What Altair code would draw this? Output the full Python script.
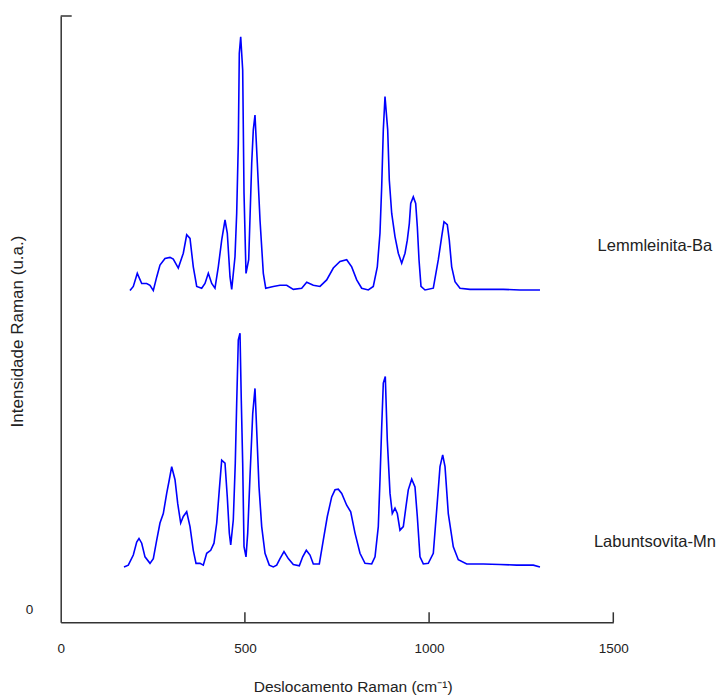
import altair as alt
import pandas as pd

# Lemmleinita-Ba (upper spectrum, offset)
lem_x = [188.1, 197.1, 207.9, 219.9, 233.4, 242.4, 251.4, 260.6, 269.5, 283.1, 296.7, 305.6,
         319.2, 332.8, 342.0, 351.0, 359.9, 369.2, 382.7, 391.7, 400.7, 409.9, 418.8, 427.8,
         437.0, 446.0, 452.2, 459.6, 464.2, 473.1, 477.7, 482.1, 484.8, 488.6, 494.0, 497.6,
         503.0, 510.3, 518.5, 522.8, 527.4, 533.7, 541.0, 550.0, 556.5, 577.1, 595.3, 613.5,
         631.4, 654.2, 667.8, 685.7, 703.9, 722.0, 740.0, 758.1, 776.3, 789.9, 803.5, 817.0,
         835.0, 848.5, 859.4, 866.7, 871.3, 875.7, 880.3, 887.6, 892.0, 898.5, 907.4, 916.4,
         925.6, 934.6, 940.8, 946.3, 950.1, 957.1, 963.6, 968.0, 972.6, 978.0, 988.9, 1011.4,
         1025.0, 1034.2, 1040.4, 1049.4, 1054.8, 1061.3, 1070.3, 1083.9, 1111.0, 1156.4,
         1201.4, 1246.7, 1301.0]
lem_y = [53.7, 54.4, 56.6, 54.9, 54.9, 54.6, 53.7, 56.0, 58.0, 59.1, 59.3, 59.0,
         57.5, 60.0, 63.1, 62.5, 57.7, 54.4, 54.1, 54.9, 56.6, 54.9, 54.1, 57.7,
         62.2, 65.6, 63.4, 56.0, 53.9, 59.4, 66.7, 78.5, 93.7, 96.5, 90.9, 70.1,
         56.6, 58.9, 75.2, 80.8, 83.3, 75.2, 65.6, 56.6, 54.1, 54.4, 54.6, 54.6,
         53.9, 54.1, 55.1, 54.6, 54.4, 55.5, 57.5, 58.6, 58.9, 57.7, 55.5, 54.1,
         53.8, 54.4, 57.7, 63.4, 71.2, 80.8, 86.4, 80.8, 72.3, 66.7, 62.8, 60.0,
         58.3, 60.0, 62.2, 65.0, 68.4, 69.5, 68.4, 64.5, 58.9, 54.4, 53.8, 54.1,
         58.9, 62.8, 65.3, 64.8, 62.2, 57.7, 55.2, 54.1, 53.9, 53.9,
         53.9, 53.8, 53.8]

# Labuntsovita-Mn (lower spectrum)
lab_x = [171.8, 183.5, 197.1, 206.3, 212.5, 219.9, 228.8, 242.4, 251.4, 260.6, 269.5, 278.5,
         287.7, 294.8, 301.3, 310.3, 317.6, 325.7, 332.8, 342.0, 351.0, 359.9, 367.3, 378.1,
         387.1, 396.3, 407.2, 416.1, 423.5, 430.5, 437.0, 446.0, 452.2, 457.7, 461.5, 468.5,
         473.9, 477.7, 482.1, 486.7, 490.2, 494.0, 497.6, 503.0, 507.6, 513.8, 521.2, 527.4,
         532.0, 538.3, 545.6, 554.6, 566.2, 577.1, 586.3, 595.3, 606.1, 617.8, 631.4, 647.7,
         656.9, 666.7, 676.7, 685.7, 702.0, 712.8, 723.7, 735.6, 744.6, 753.5, 762.8, 776.3,
         787.2, 798.9, 812.4, 826.0, 844.2, 853.2, 862.1, 866.7, 871.3, 875.7, 881.1, 886.5,
         893.9, 900.1, 907.4, 913.7, 921.0, 930.0, 937.3, 943.5, 952.8, 961.7, 968.0, 975.3,
         984.3, 997.8, 1011.4, 1020.6, 1029.6, 1036.9, 1043.2, 1052.1, 1065.7, 1079.3, 1102.1,
         1147.1, 1192.4, 1237.8, 1282.9, 1301.0]
lab_y = [7.1, 7.4, 9.1, 11.3, 11.9, 11.1, 8.8, 7.7, 8.5, 11.6, 14.5, 16.1,
         19.5, 21.8, 24.0, 21.8, 17.8, 14.5, 15.6, 16.4, 13.9, 9.9, 7.7, 7.7,
         7.4, 9.4, 9.9, 11.1, 14.5, 20.1, 25.1, 24.6, 18.9, 12.8, 10.8, 15.0,
         24.6, 34.7, 45.4, 46.5, 35.2, 24.6, 10.5, 8.8, 12.8, 22.3, 32.9, 37.2,
         30.2, 20.6, 13.9, 9.4, 7.4, 7.1, 7.4, 8.5, 9.7, 8.5, 7.5, 7.3,
         8.8, 9.9, 9.1, 7.6, 7.6, 11.6, 15.6, 18.9, 20.1, 20.2, 19.5, 17.5,
         16.4, 12.8, 9.4, 7.7, 7.6, 8.8, 13.9, 21.8, 30.7, 38.1, 39.2, 28.5,
         19.5, 16.1, 17.0, 16.1, 13.3, 13.9, 17.3, 20.1, 21.9, 20.6, 15.6, 8.8,
         7.6, 7.7, 9.4, 16.7, 24.0, 26.0, 24.0, 16.1, 10.5, 8.3, 7.6,
         7.6, 7.5, 7.4, 7.4, 7.1]

label_names = ["Lemmleinita-Ba", "Labuntsovita-Mn"]
label_x = [1613, 1613]
label_y = [61.2, 11.3]

x_ticks = [0, 500, 1000, 1500]
inner_ticks = [500, 1000, 1500]
y_ticks = [0]

W, H = 552.6, 606.3
FONT = "Liberation Sans"
TXT = "#222222"

df = pd.concat([
    pd.DataFrame({"x": lem_x, "y": lem_y, "s": "Lemmleinita-Ba"}),
    pd.DataFrame({"x": lab_x, "y": lab_y, "s": "Labuntsovita-Mn"}),
])

xscale = alt.Scale(domain=[0, 1500], nice=False, zero=False)
yscale = alt.Scale(domain=[-2.24, 100], nice=False, zero=False)

xaxis = alt.Axis(values=x_ticks, format="d", ticks=False, grid=False, domainColor="#333333",
                 domainWidth=1.5, labelFlush=False, labelOverlap=False,
                 labelFont=FONT, labelFontSize=13.5, labelColor=TXT, labelPadding=19,
                 title="Deslocamento Raman (cm⁻¹)", titleFont=FONT, titleFontSize=15.5,
                 titleFontWeight="normal", titleColor=TXT, titleX=292, titleY=64,
                 titleBaseline="middle", titleAlign="center")
yaxis = alt.Axis(values=y_ticks, format="d", ticks=False, grid=False, domainColor="#333333",
                 domainWidth=1.5, labelFlush=False,
                 labelFont=FONT, labelFontSize=13.5, labelColor=TXT, labelPadding=28,
                 labelBaseline="middle",
                 title="Intensidade Raman (u.a.)", titleFont=FONT, titleFontSize=17,
                 titleFontWeight="normal", titleColor=TXT, titleX=-43, titleY=315,
                 titleBaseline="middle", titleAlign="center", titleAngle=-90)

lines = alt.Chart(df).mark_line(color="#0000FF", strokeWidth=1.6).encode(
    x=alt.X("x:Q", scale=xscale, axis=xaxis),
    y=alt.Y("y:Q", scale=yscale, axis=yaxis),
    detail="s:N",
)

labels = alt.Chart(pd.DataFrame({"t": label_names, "x": label_x, "y": label_y})).mark_text(
    font=FONT, fontSize=16.5, color=TXT, align="center", baseline="middle"
).encode(x=alt.X("x:Q", scale=xscale), y=alt.Y("y:Q", scale=yscale), text="t:N")

ticks_x = alt.Chart(pd.DataFrame({"v": inner_ticks})).mark_rule(color="#333333", strokeWidth=1.5).encode(
    x=alt.X("v:Q", scale=xscale), y=alt.value(H), y2=alt.value(H - 10)
)

tick_top = alt.Chart(pd.DataFrame({"v": [0]})).mark_rule(color="#333333", strokeWidth=1.5).encode(
    x=alt.value(0), x2=alt.value(11), y=alt.value(0)
)

chart = alt.layer(lines, labels, ticks_x, tick_top).properties(
    width=W, height=H,
    background="white",
    autosize=alt.AutoSizeParams(type="none"),
    padding={"left": 60.7, "top": 16, "right": 114.7, "bottom": 73.7},
).configure_view(stroke=None)

chart.save("out.html", embed_options={"renderer": "svg", "actions": False})
